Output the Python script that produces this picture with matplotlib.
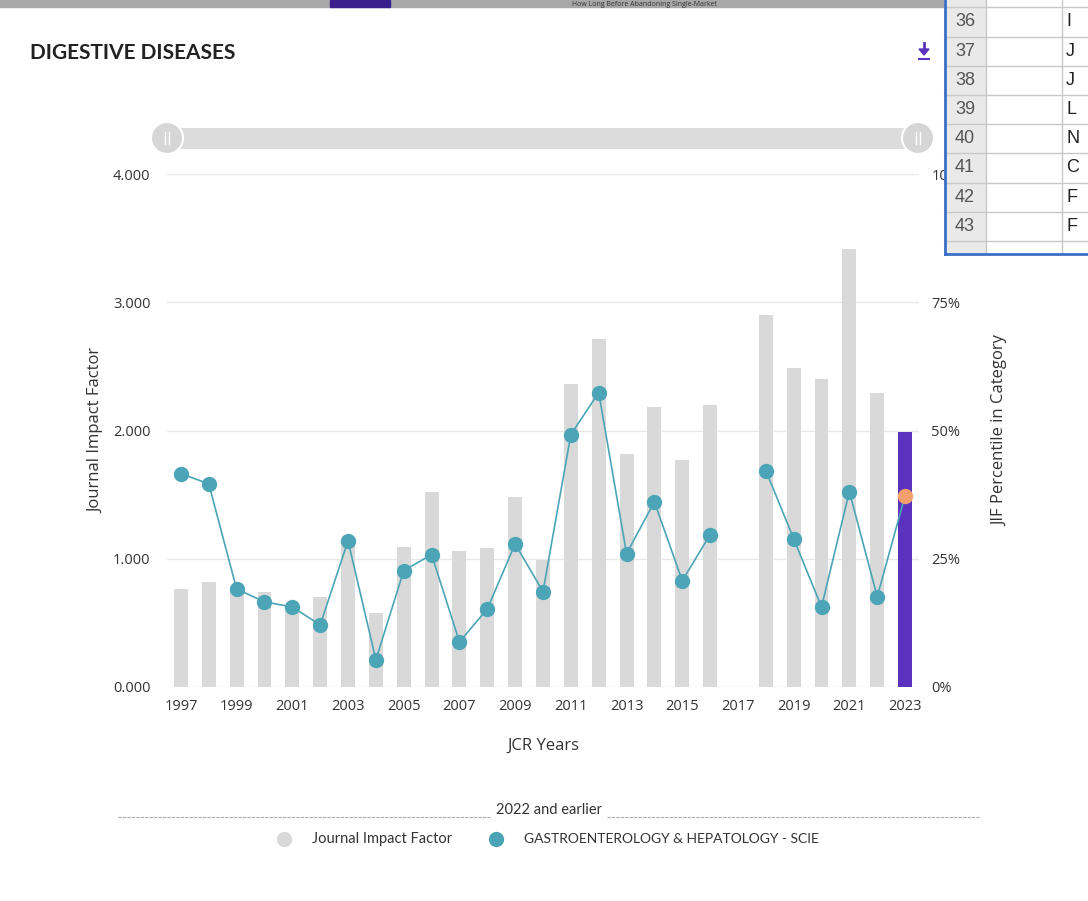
import numpy as np
import matplotlib
matplotlib.use("Agg")
import matplotlib.pyplot as plt
from matplotlib.patches import Rectangle, FancyBboxPatch, Circle, Polygon

# JCR data (2017 has no value)
years = list(range(1997, 2024))
jif = [0.764, 0.819, 0.78, 0.74, 0.63, 0.70, 1.14, 0.577, 1.09, 1.52,
       1.06, 1.08, 1.48, 0.99, 2.36, 2.71, 1.82, 2.18, 1.77, 2.20,
       np.nan, 2.90, 2.49, 2.40, 3.415, 2.29, 1.99]
pct = [41.6, 39.6, 19.1, 16.6, 15.6, 12.1, 28.5, 5.3, 22.7, 25.8,
       8.8, 15.2, 27.9, 18.6, 49.2, 57.4, 26.0, 36.1, 20.7, 29.7,
       np.nan, 42.2, 28.9, 15.6, 38.1, 17.6, 37.3]
left_ticks = [0, 1, 2, 3, 4]
right_ticks = [0, 25, 50, 75, 100]
year_ticks = years[::2]
sheet_rows = ["36", "37", "38", "39", "40", "41", "42", "43"]
sheet_col = ["I", "J", "J", "L", "N", "C", "F", "F"]

GREY = "#d9d9d9"
TEAL = "#4ba5b7"
PURPLE = "#5b32bd"
ORANGE = "#f4a06c"
TXT = "#333333"
COND = ["Lato", "DejaVu Sans"]

plt.rcParams['font.family'] = ['Open Sans', 'DejaVu Sans']

W, H = 1088, 901
fig = plt.figure(figsize=(W / 100, H / 100), dpi=100)
fig.patch.set_facecolor("white")

ax = fig.add_axes([167 / W, 1 - 687 / H, (919 - 167) / W, (687 - 174) / H])
bar_colors = [GREY] * (len(years) - 1) + [PURPLE]
ax.bar(years, np.nan_to_num(jif), width=0.5, color=bar_colors, zorder=2)
ax.set_xlim(1996.5, 2023.5)
ax.set_ylim(0, 4)
ax.set_yticks(left_ticks)
ax.set_yticklabels([f"{v:.3f}" for v in left_ticks])
ax.set_xticks(year_ticks)
ax.grid(axis="y", color="#e8e8e8", lw=1, zorder=0)
for s in ax.spines.values():
    s.set_visible(False)
ax.tick_params(length=0, labelsize=10.5, labelcolor=TXT)
ax.tick_params(axis="y", pad=12)
ax.tick_params(axis="x", pad=9)
ax.set_xlabel("JCR Years", fontsize=12, color=TXT, labelpad=17)
ax.set_ylabel("Journal Impact Factor", fontsize=12, color=TXT, labelpad=6)

ax2 = ax.twinx()
ax2.set_ylim(0, 100)
ax2.set_yticks(right_ticks)
ax2.set_yticklabels([f"{v}%" for v in right_ticks])
for s in ax2.spines.values():
    s.set_visible(False)
ax2.tick_params(length=0, labelsize=10.5, labelcolor=TXT, pad=9)
ax2.set_ylabel("JIF Percentile in Category", fontsize=12, color=TXT, labelpad=17)
ax2.plot(years, pct, color=TEAL, lw=1.2, zorder=3)
ax2.plot(years[:-1], pct[:-1], "o", color=TEAL, ms=10, zorder=4)
ax2.plot(years[-1:], pct[-1:], "o", color=ORANGE, ms=10, zorder=4)

# decorations in pixel coordinates
ov = fig.add_axes([0, 0, 1, 1], zorder=10)
ov.set_xlim(0, W)
ov.set_ylim(H, 0)
ov.axis("off")

# top strip of the screenshot behind the card
ov.add_patch(Rectangle((0, 0), 944, 7, color="#a8a8a8"))
ov.add_patch(Rectangle((330, 0), 60, 7, color="#3a1f8c"))
ov.text(572, 0.5, "How Long Before Abandoning Single-Market", fontsize=5,
        color="#333333", va="top")

ov.text(30, 53, "DIGESTIVE DISEASES", fontsize=15, fontweight="bold",
        color="#222222", va="center", family=COND)
# download icon
ov.plot([924, 924], [43, 51], color=PURPLE, lw=2)
ov.add_patch(Polygon([(919, 49), (929, 49), (924, 55)], closed=True, color=PURPLE))
ov.plot([919, 929], [58.5, 58.5], color=PURPLE, lw=1.5)

# range slider
ov.add_patch(FancyBboxPatch((167, 128), 751, 21, boxstyle="round,pad=0,rounding_size=10",
                            color="#dcdcdc", lw=0))
for cx in (167, 918):
    ov.add_patch(Circle((cx, 138), 16, facecolor="#d6d6d6", edgecolor="white", lw=1.5))
    ov.plot([cx - 2, cx - 2], [132, 144], color="white", lw=1)
    ov.plot([cx + 2, cx + 2], [132, 144], color="white", lw=1)

# legend
ov.text(549, 810, "2022 and earlier", fontsize=10.5, color=TXT, ha="center",
        va="center", family=COND)
ov.plot([118, 490], [817, 817], color="#aaaaaa", lw=0.8, ls=(0, (3, 1)))
ov.plot([607, 980], [817, 817], color="#aaaaaa", lw=0.8, ls=(0, (3, 1)))
ov.plot([284], [839], "o", color=GREY, ms=10)
ov.text(312, 839, "Journal Impact Factor", fontsize=10.5, color=TXT, va="center",
        family=COND)
ov.plot([496], [839], "o", color=TEAL, ms=10)
ov.text(524, 839, "GASTROENTEROLOGY & HEPATOLOGY - SCIE", fontsize=10, color=TXT,
        va="center", family=COND)

# spreadsheet window pasted on top right
ov.add_patch(Rectangle((944, 0), W - 944, 253, facecolor="white", edgecolor="none"))
ov.add_patch(Rectangle((944, 0), 42, 253, facecolor="#e9e9e9", edgecolor="none"))
for i, (r, c) in enumerate(zip(sheet_rows, sheet_col)):
    y = 22 + i * 29.2
    ov.plot([944, W], [y + 14.6, y + 14.6], color="#c8c8c8", lw=1)
    ov.text(965, y, r, fontsize=13, color="#555555", ha="center", va="center",
            family=["Liberation Sans", "DejaVu Sans"])
    ov.text(1066, y, c, fontsize=13, color="#222222", ha="left", va="center",
            family=["Liberation Sans", "DejaVu Sans"])
ov.plot([944, W], [7, 7], color="#c8c8c8", lw=1)
ov.plot([986, 986], [0, 253], color="#c8c8c8", lw=1)
ov.plot([1062, 1062], [0, 253], color="#c8c8c8", lw=1)
ov.plot([945, 945], [0, 254], color="#3b6fc4", lw=2)
ov.plot([945, W], [254, 254], color="#3b6fc4", lw=2)

fig.savefig("out.png", dpi=100)
